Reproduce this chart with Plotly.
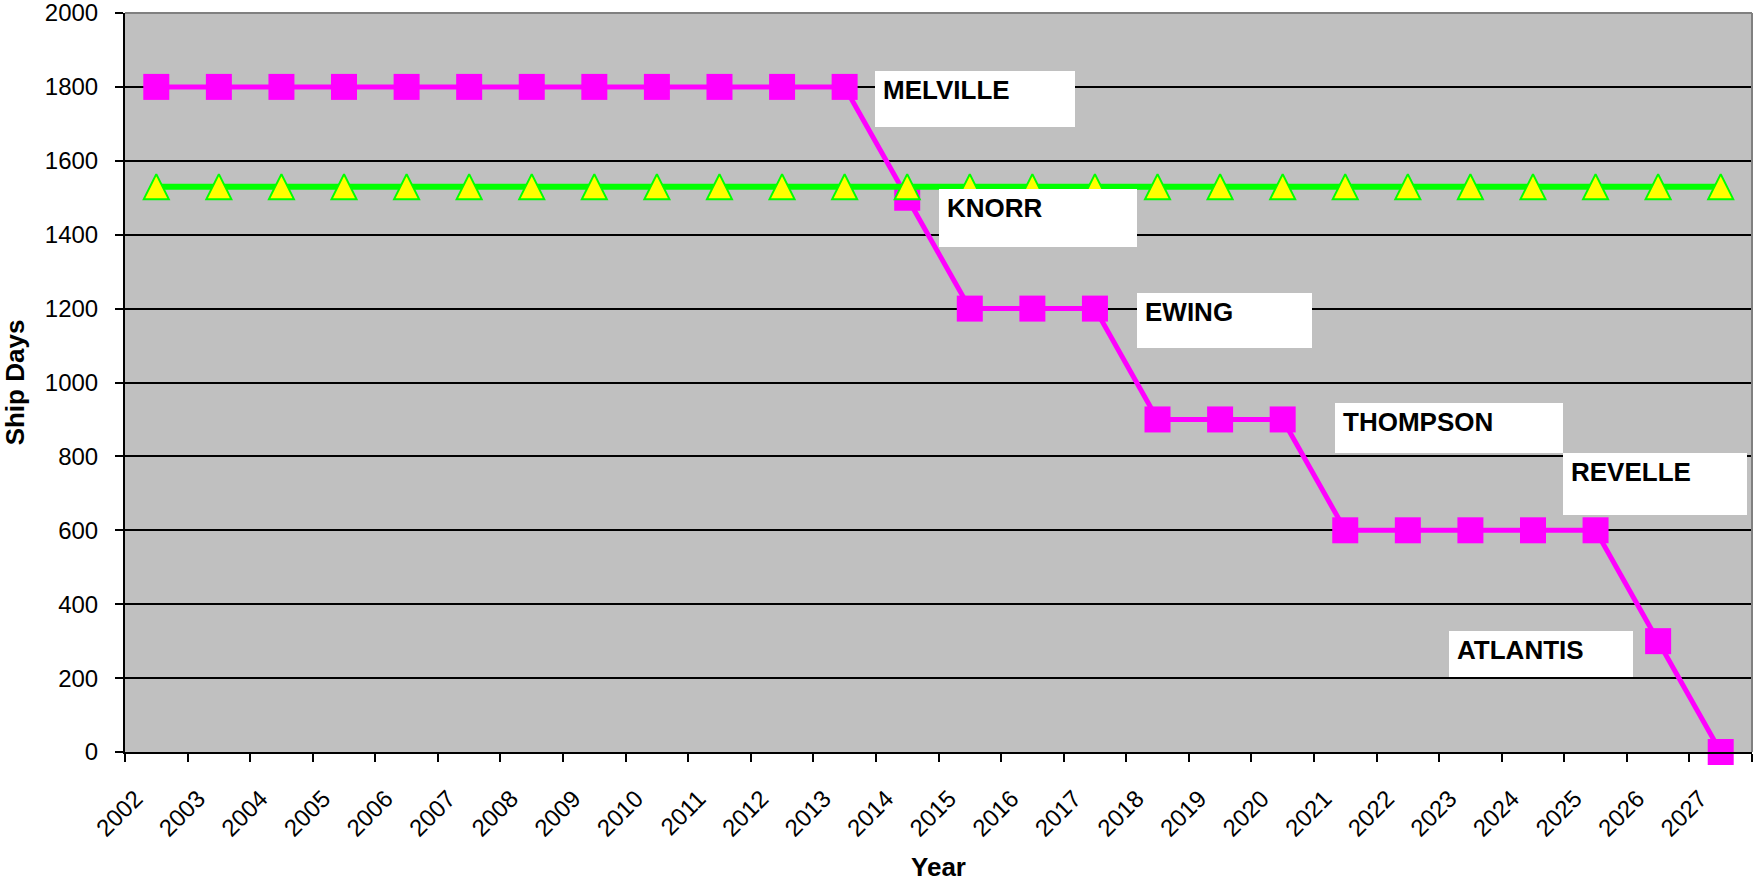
import plotly.graph_objects as go

years = list(range(2002, 2028))
year_labels = [str(y) for y in years]
planned_days = [1800] * 12 + [1500] + [1200] * 3 + [900] * 3 + [600] * 5 + [300, 0]
required_days = [1530] * 26
ship_labels = ["MELVILLE", "KNORR", "EWING", "THOMPSON", "REVELLE", "ATLANTIS"]

W, H = 1754, 882
L, R, T, B = 125, 1752, 13, 752

def px(x):
    return (x - L) / (R - L)

def py(y):
    return (B - y) / (B - T)

# label boxes in pixel coordinates: (x0, y0, x1, y1, text_y)
boxes = [
    (875, 71, 1075, 127, 90),
    (939, 189, 1137, 247, 208),
    (1137, 293, 1312, 348, 312),
    (1335, 403, 1563, 453, 422),
    (1563, 453, 1747, 515, 472),
    (1449, 631, 1633, 677, 650),
]

fig = go.Figure()
fig.add_trace(go.Scatter(
    x=years, y=planned_days, mode="lines+markers",
    line=dict(color="#FF00FF", width=5),
    marker=dict(symbol="square", size=26, color="#FF00FF", line=dict(width=0)),
    cliponaxis=False,
))
tri = 25
fig.add_trace(go.Scatter(
    x=years, y=required_days, mode="lines+markers",
    line=dict(color="#00FF00", width=6),
    marker=dict(symbol="arrow-down", angle=180, standoff=tri / 2, size=tri,
                color="#FFFF00", line=dict(width=2, color="#00FF00")),
    cliponaxis=False,
))

shapes = []
annotations = []
for (x0, y0, x1, y1, ty), txt in zip(boxes, ship_labels):
    shapes.append(dict(type="rect", xref="paper", yref="paper",
                       x0=px(x0), x1=px(x1), y0=py(y1), y1=py(y0),
                       fillcolor="white", line=dict(width=0), layer="above"))
    annotations.append(dict(xref="paper", yref="paper", x=px(x0 + 6), y=py(ty),
                            text="<b>%s</b>" % txt, showarrow=False,
                            xanchor="left", yanchor="middle",
                            font=dict(family="Liberation Sans, Arial", size=26, color="black")))

# gray top and right borders of plot area
shapes.append(dict(type="line", xref="paper", yref="paper", x0=0, x1=1, y0=1, y1=1,
                   line=dict(color="#808080", width=2), layer="above"))
shapes.append(dict(type="line", xref="paper", yref="paper", x0=1, x1=1, y0=0, y1=1,
                   line=dict(color="#808080", width=2), layer="above"))

label_shift = 0.33
boundaries = [y - 0.5 for y in years] + [years[-1] + 0.5]

fig.update_layout(
    width=W, height=H,
    margin=dict(l=L, r=W - R, t=T, b=H - B, pad=0),
    paper_bgcolor="white", plot_bgcolor="#C0C0C0",
    showlegend=False,
    font=dict(family="Liberation Sans, Arial", size=24, color="black"),
    shapes=shapes, annotations=annotations,
    xaxis=dict(
        tickmode="array", tickvals=[y - label_shift for y in years], ticktext=year_labels,
        ticks="outside", ticklen=0, tickangle=-45, ticklabelstandoff=21,
        minor=dict(tickmode="array", tickvals=boundaries, ticks="outside", ticklen=8,
                   tickwidth=2, tickcolor="black", showgrid=False),
        showline=True, linecolor="black", linewidth=2,
        showgrid=False, zeroline=False, range=[2001.5, 2027.5], automargin=False,
        ticklabeloverflow="allow",
        title=dict(text="<b>Year</b>", font=dict(size=26), standoff=27),
        tickfont=dict(size=24),
    ),
    yaxis=dict(
        range=[0, 2000], dtick=200, ticks="outside", ticklen=8, tickwidth=2,
        tickcolor="black", showline=True, linecolor="black", linewidth=2,
        showgrid=True, gridcolor="black", gridwidth=1.5, zeroline=False,
        automargin=False, ticklabelstandoff=12, ticklabeloverflow="allow",
        title=dict(text="<b>Ship Days</b>", font=dict(size=26), standoff=14),
        tickfont=dict(size=24),
    ),
)

fig.write_html("out.html", config={"displayModeBar": False},
               post_script="document.body.style.margin='0';")
